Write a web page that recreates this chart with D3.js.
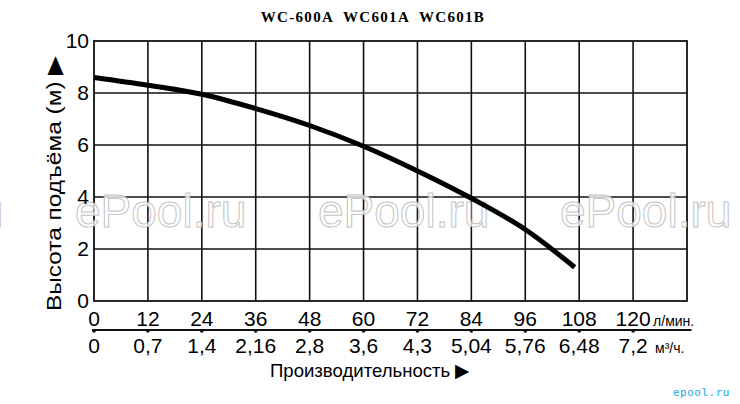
<!DOCTYPE html>
<html><head><meta charset="utf-8">
<script src="https://cdn.jsdelivr.net/npm/d3@7"></script>
<style>body{margin:0;background:#fff}svg{display:block}</style>
</head><body>
<svg id="c" width="740" height="404"></svg>
<script>
const title = "WC-600A  WC601A  WC601B";
const flowLmin = [0, 12, 24, 36, 48, 60, 72, 84, 96, 107];
const headM = [8.6, 8.3, 7.95, 7.4, 6.75, 5.95, 5.0, 3.95, 2.75, 1.3];
const xTicks = [0, 12, 24, 36, 48, 60, 72, 84, 96, 108, 120];
const xTicks2Labels = ["0", "0,7", "1,4", "2,16", "2,8", "3,6", "4,3", "5,04", "5,76", "6,48", "7,2"];
const yTicks = [0, 2, 4, 6, 8, 10];
const yTitle = "Высота подъёма (м) ▶";
const xTitle = "Производительность ▶";
const unit1 = "л/мин.";
const unit2 = "м³/ч.";
const watermark = "ePool.ru";

const svg = d3.select("#c");
const x = d3.scaleLinear().domain([0, 132]).range([94, 687]);
const y = d3.scaleLinear().domain([0, 10]).range([301, 41]);
const narrow = "'Liberation Sans Narrow','Arial Narrow',sans-serif";
const sans = "'Liberation Sans',Arial,sans-serif";

// title
svg.append("text").attr("x", 373).attr("y", 22).attr("text-anchor", "middle")
  .attr("font-family", "'Liberation Serif','Times New Roman',serif").attr("font-weight", "bold")
  .attr("font-size", 15).attr("letter-spacing", 1.3).style("white-space", "pre").text(title);

// grid
const g = svg.append("g");
g.selectAll("line.v").data(xTicks.filter(d => d > 0)).join("line")
  .attr("x1", d => x(d)).attr("x2", d => x(d)).attr("y1", y(10)).attr("y2", y(0))
  .attr("stroke", "#111").attr("stroke-width", 1.6);
g.selectAll("line.h").data(yTicks.filter(d => d > 0 && d < 10)).join("line")
  .attr("x1", x(0)).attr("x2", x(132)).attr("y1", d => y(d)).attr("y2", d => y(d))
  .attr("stroke", "#111").attr("stroke-width", 1.6);
g.append("rect").attr("x", x(0)).attr("y", y(10)).attr("width", x(132) - x(0)).attr("height", y(0) - y(10))
  .attr("fill", "none").attr("stroke", "#111").attr("stroke-width", 1.8);

// watermarks
[-168, 75, 318, 560].forEach(px => {
  svg.append("text").attr("x", px).attr("y", 227).attr("font-family", sans)
    .attr("font-size", 46).attr("fill", "#fff").attr("fill-opacity", 0.75)
    .attr("stroke", "#c4c4c4").attr("stroke-width", 1).text(watermark);
});

// curve
const line = d3.line().x((d, i) => x(flowLmin[i])).y(d => y(d)).curve(d3.curveMonotoneX);
svg.append("path").attr("d", line(headM)).attr("fill", "none").attr("stroke", "#000").attr("stroke-width", 5);

// y axis labels
svg.selectAll("text.yt").data(yTicks).join("text").attr("class", "yt")
  .attr("x", 89).attr("y", d => y(d) + 7).attr("text-anchor", "end")
  .attr("font-family", narrow).attr("font-size", 21).text(d => d);

// upper x labels
svg.selectAll("text.xt").data(xTicks).join("text").attr("class", "xt")
  .attr("x", d => x(d)).attr("y", 326).attr("text-anchor", "middle")
  .attr("font-family", narrow).attr("font-size", 21).text(d => d);
svg.append("text").attr("x", x(120) + 20).attr("y", 326).attr("font-family", narrow)
  .attr("font-size", 14).text(unit1);

// second axis
svg.append("line").attr("x1", x(0) - 2).attr("x2", x(133)).attr("y1", 330).attr("y2", 330)
  .attr("stroke", "#111").attr("stroke-width", 1.8);
svg.selectAll("circle.tk").data(xTicks).join("circle")
  .attr("cx", d => x(d)).attr("cy", 331).attr("r", 1.8).attr("fill", "#111");
svg.selectAll("text.xt2").data(xTicks).join("text").attr("class", "xt2")
  .attr("x", d => x(d)).attr("y", 353).attr("text-anchor", "middle")
  .attr("font-family", narrow).attr("font-size", 21).text((d, i) => xTicks2Labels[i]);
svg.append("text").attr("x", x(120) + 22).attr("y", 353).attr("font-family", narrow)
  .attr("font-size", 14).text(unit2);

// axis titles
svg.append("text").attr("x", 270).attr("y", 377).attr("font-family", narrow)
  .attr("font-size", 19).attr("textLength", 200).attr("lengthAdjust", "spacingAndGlyphs").text(xTitle);
svg.append("text").attr("transform", "translate(61,311) rotate(-90)")
  .attr("font-family", sans).attr("font-size", 21).attr("textLength", 255)
  .attr("lengthAdjust", "spacingAndGlyphs").text(yTitle);

// logo
svg.append("text").attr("x", 673).attr("y", 396).attr("font-family", "'DejaVu Sans Mono',monospace")
  .attr("font-size", 11).attr("fill", "#19a9de").attr("letter-spacing", 0.5).text("epool.ru");
</script>
</body></html>
